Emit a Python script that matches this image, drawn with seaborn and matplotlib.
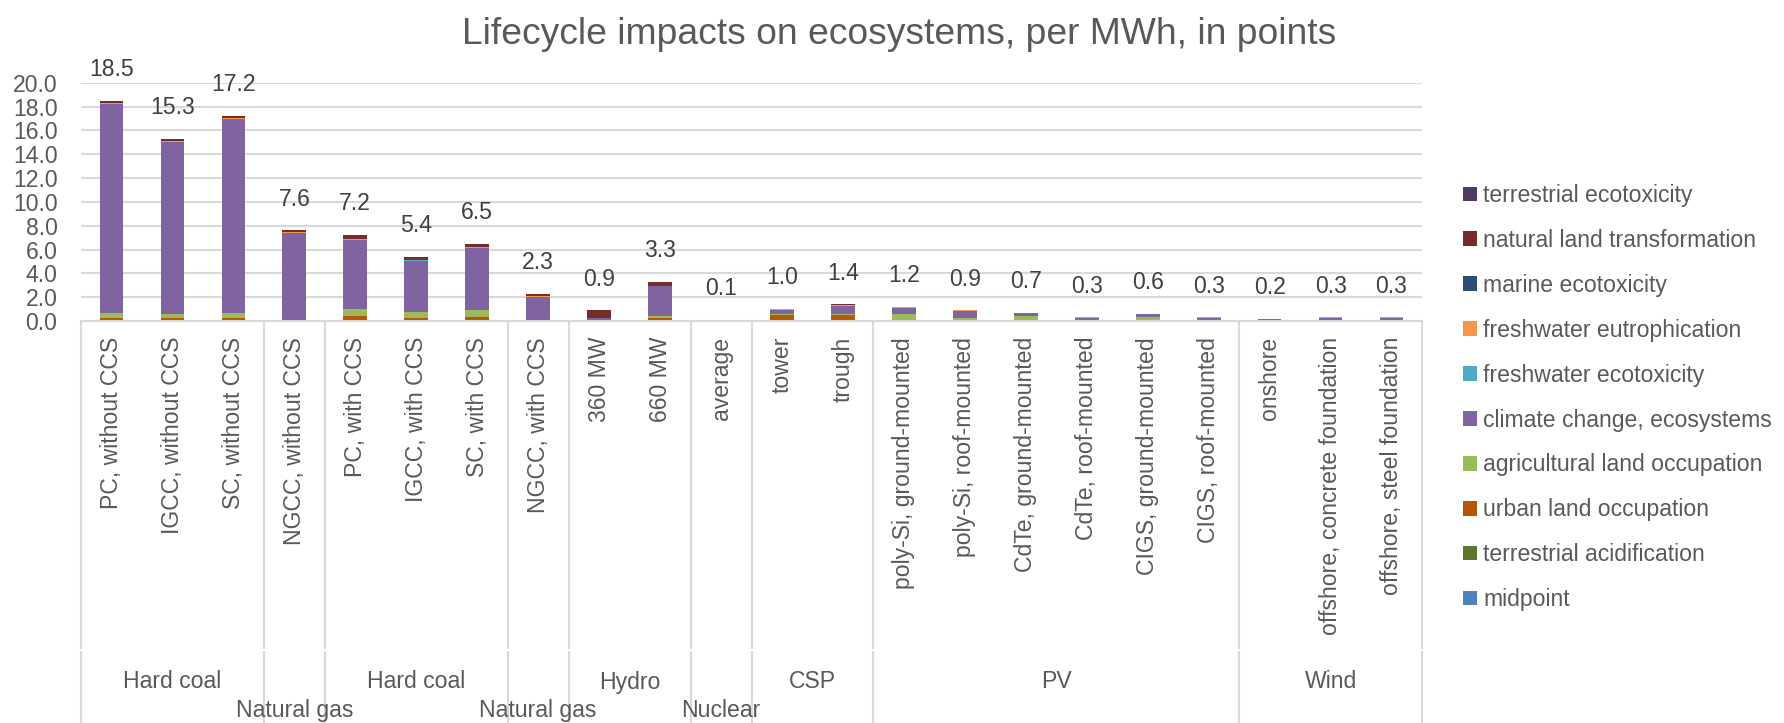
import numpy as np
import pandas as pd
import matplotlib
matplotlib.use("Agg")
import matplotlib.pyplot as plt
import matplotlib.transforms as mtransforms
from matplotlib.patches import Patch
import seaborn as sns

# ---- data -------------------------------------------------------------
categories = [
    "PC, without CCS", "IGCC, without CCS", "SC, without CCS",
    "NGCC, without CCS",
    "PC, with CCS", "IGCC, with CCS", "SC, with CCS",
    "NGCC, with CCS",
    "360 MW", "660 MW",
    "average",
    "tower", "trough",
    "poly-Si, ground-mounted", "poly-Si, roof-mounted",
    "CdTe, ground-mounted", "CdTe, roof-mounted",
    "CIGS, ground-mounted", "CIGS, roof-mounted",
    "onshore", "offshore, concrete foundation", "offshore, steel foundation",
]

group_names = ["Hard coal", "Natural gas", "Hard coal", "Natural gas",
               "Hydro", "Nuclear", "CSP", "PV", "Wind"]
group_sizes = [3, 1, 3, 1, 2, 1, 2, 6, 3]

terrestrial_ecotoxicity = [0.01, 0.01, 0.01, 0.00, 0.01, 0.01, 0.01, 0.00,
                           0.00, 0.00, 0.00, 0.00, 0.00,
                           0.00, 0.00, 0.00, 0.00, 0.00, 0.00,
                           0.00, 0.00, 0.00]
natural_land_transformation = [0.20, 0.17, 0.17, 0.14, 0.30, 0.20, 0.30, 0.20,
                               0.62, 0.36, 0.01, 0.00, 0.08,
                               0.00, 0.00, 0.00, 0.00, 0.00, 0.00,
                               0.00, 0.00, 0.00]
marine_ecotoxicity = [0.01, 0.01, 0.01, 0.00, 0.04, 0.04, 0.01, 0.00,
                      0.00, 0.00, 0.00, 0.00, 0.00,
                      0.00, 0.00, 0.00, 0.00, 0.00, 0.00,
                      0.00, 0.00, 0.00]
freshwater_eutrophication = [0.08, 0.05, 0.08, 0.05, 0.02, 0.02, 0.08, 0.05,
                             0.02, 0.03, 0.00, 0.05, 0.04,
                             0.10, 0.05, 0.06, 0.03, 0.02, 0.03,
                             0.02, 0.03, 0.03]
freshwater_ecotoxicity = [0.00, 0.00, 0.00, 0.00, 0.06, 0.06, 0.00, 0.00,
                          0.00, 0.00, 0.00, 0.00, 0.00,
                          0.00, 0.00, 0.00, 0.00, 0.00, 0.00,
                          0.00, 0.00, 0.00]
climate_change = [17.52, 14.49, 16.27, 7.36, 5.73, 4.30, 5.14, 1.98,
                  0.18, 2.49, 0.06, 0.38, 0.68,
                  0.50, 0.58, 0.25, 0.22, 0.22, 0.23,
                  0.16, 0.24, 0.25]
agricultural_land = [0.39, 0.36, 0.45, 0.02, 0.64, 0.48, 0.59, 0.04,
                     0.03, 0.14, 0.01, 0.04, 0.10,
                     0.58, 0.22, 0.36, 0.03, 0.34, 0.02,
                     0.01, 0.01, 0.01]
urban_land = [0.28, 0.20, 0.20, 0.03, 0.39, 0.28, 0.36, 0.03,
              0.05, 0.28, 0.02, 0.53, 0.50,
              0.02, 0.05, 0.03, 0.02, 0.02, 0.02,
              0.01, 0.02, 0.01]
terrestrial_acidification = [0.01, 0.01, 0.01, 0.00, 0.01, 0.01, 0.01, 0.00,
                             0.00, 0.00, 0.00, 0.00, 0.00,
                             0.00, 0.00, 0.00, 0.00, 0.00, 0.00,
                             0.00, 0.00, 0.00]
midpoint = [0.0] * 22

# legend order = top of stack first
components = {
    "terrestrial ecotoxicity": terrestrial_ecotoxicity,
    "natural land transformation": natural_land_transformation,
    "marine ecotoxicity": marine_ecotoxicity,
    "freshwater eutrophication": freshwater_eutrophication,
    "freshwater ecotoxicity": freshwater_ecotoxicity,
    "climate change, ecosystems": climate_change,
    "agricultural land occupation": agricultural_land,
    "urban land occupation": urban_land,
    "terrestrial acidification": terrestrial_acidification,
    "midpoint": midpoint,
}
colors = ["#4E3B62", "#772C2A", "#2C4D75", "#F79646", "#4BACC6",
          "#8064A2", "#9BBB59", "#B65708", "#5F7530", "#4F81BD"]
palette = dict(zip(components.keys(), colors))

rows = []
for comp, vals in components.items():
    for i, v in enumerate(vals):
        rows.append({"pos": i, "component": comp, "value": v})
df = pd.DataFrame(rows)
totals = np.round(np.sum([np.array(v) for v in components.values()], axis=0), 2)

# ---- style ------------------------------------------------------------
sns.set_style("white")
plt.rcParams["font.family"] = ["Liberation Sans", "DejaVu Sans"]
TXT = "#595959"
GRID = "#D9D9D9"
FS = 16.6

W, H = 1784, 723
fig = plt.figure(figsize=(W / 100, H / 100), dpi=100)
ax_left, ax_right, ax_top, ax_bottom = 81, 1422, 82.7, 321
ax = fig.add_axes([ax_left / W, 1 - ax_bottom / H,
                   (ax_right - ax_left) / W, (ax_bottom - ax_top) / H])

sns.histplot(data=df, x="pos", weights="value", hue="component",
             hue_order=list(components.keys()), palette=palette,
             multiple="stack", discrete=True, shrink=0.39,
             linewidth=0, alpha=1, legend=False, ax=ax)

ax.set_xlim(-0.5, len(categories) - 0.5)
ax.set_ylim(0, 20)
ax.set_yticks(np.arange(0, 20.1, 2))
ax.set_yticklabels([f"{t:.1f}" for t in np.arange(0, 20.1, 2)])
ax.yaxis.grid(True, color=GRID, linewidth=1.5)
ax.set_axisbelow(True)
ax.set_xlabel("")
ax.set_ylabel("")
for s in ["top", "right", "left"]:
    ax.spines[s].set_visible(False)
ax.spines["bottom"].set_color(GRID)
ax.spines["bottom"].set_linewidth(1.5)

ax.set_xticks(range(len(categories)))
ax.set_xticklabels(categories, rotation=90, fontsize=FS, color=TXT)
ax.tick_params(axis="x", length=0, pad=11.5)
ax.tick_params(axis="y", length=0, pad=17, labelsize=FS, labelcolor=TXT)

# totals above each stack
for i, t in enumerate(totals):
    ax.annotate(f"{t:.1f}", (i, t), xytext=(0, 22.5), textcoords="offset points",
                ha="center", va="center", fontsize=FS, color="#404040",
                annotation_clip=False)

# multi-level category axis: separators and group names
trans = mtransforms.blended_transform_factory(ax.transData, ax.transAxes)
px = ax_bottom - ax_top  # axes height in pixels
y_break = -(649 - ax_bottom) / px
y_break2 = -(651 - ax_bottom) / px
y_end = -(H + 5 - ax_bottom) / px
edges = np.concatenate([[0], np.cumsum(group_sizes)]) - 0.5
for e in edges:
    ax.plot([e, e], [0, y_break], transform=trans, color=GRID, lw=1.5,
            clip_on=False, solid_capstyle="butt")
    ax.plot([e, e], [y_break2, y_end], transform=trans, color=GRID, lw=1.5,
            clip_on=False, solid_capstyle="butt")

y_grp = -(682 - ax_bottom) / px
y_grp_low = -(711 - ax_bottom) / px
for name, size, lo in zip(group_names, group_sizes, edges[:-1]):
    yy = y_grp_low if size == 1 else y_grp
    ax.text(lo + size / 2, yy, name, transform=trans, ha="center", va="center",
            fontsize=FS, color=TXT, clip_on=False)

# legend
handles = [Patch(facecolor=palette[c], edgecolor="none") for c in components]
fig.legend(handles, list(components.keys()), loc="upper left",
           bbox_to_anchor=(1463 / W, 1 - 184 / H), frameon=False,
           fontsize=FS, labelcolor=TXT, handlelength=0.6, handleheight=0.6,
           handletextpad=0.28, labelspacing=0.95, borderpad=0, borderaxespad=0)

fig.text(899 / W, 1 - 35 / H, "Lifecycle impacts on ecosystems, per MWh, in points",
         ha="center", va="center", fontsize=26.8, color=TXT)

fig.savefig("out.png", dpi=100, facecolor="white")
